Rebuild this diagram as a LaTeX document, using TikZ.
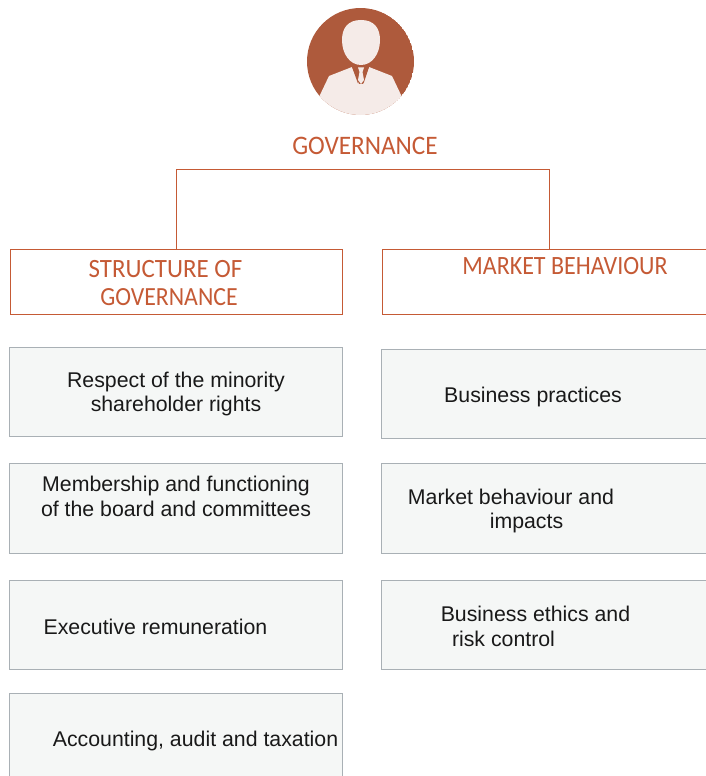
\documentclass[tikz,border=0pt]{standalone}
\usepackage{fontspec}
\setmainfont{Liberation Sans}
\newfontfamily\headfont{Carlito}
\definecolor{rust}{HTML}{C55A35}
\definecolor{disc}{HTML}{AE5A3C}
\definecolor{skin}{HTML}{F5EBE8}
\definecolor{boxfill}{HTML}{F5F7F6}
\definecolor{boxline}{HTML}{A9B0B5}
\tikzset{
  headbox/.style={draw=rust,line width=0.9pt,fill=white},
  itembox/.style={draw=boxline,line width=1pt,fill=boxfill},
  headtext/.style={inner sep=0pt,anchor=center,text=rust,yscale=1.06,font=\headfont\fontsize{25.2}{25.2}\selectfont},
  headnarrow/.style={inner sep=0pt,anchor=center,text=rust,yscale=1.1,font=\headfont\fontsize{24}{24}\selectfont},
  itemtext/.style={inner sep=0pt,anchor=center,text=black!90,font=\fontsize{21.3}{21.3}\selectfont},
  link/.style={draw=rust,line width=0.9pt}
}
\begin{document}
\begin{tikzpicture}[x=1pt,y=-1pt]
\useasboundingbox (0,0) rectangle (705,776);
% portrait
\begin{scope}
\clip (360.5,61.5) circle (53.5);
\fill[disc] (360.5,61.5) circle (53.5);
\fill[skin] (361,20) .. controls (348,20) and (342,28) .. (342,40)
  .. controls (342,54) and (350,65) .. (361,65)
  .. controls (372,65) and (380,54) .. (380,40)
  .. controls (380,28) and (374,20) .. (361,20) -- cycle;
\fill[skin] (352,67) -- (329,76) -- (319,97) -- (319,120) -- (403,120) -- (402,97)
  -- (392,76) -- (369,67) -- (363,84) -- (359,84) -- cycle;
\fill[disc] (352,67) -- (358,83.5) -- (360.5,72) -- (363.5,83.5) -- (369,67) -- (364,68) -- (357,68) -- cycle;
\fill[skin] (358,67.5) -- (364,67.5) -- (362.5,72) -- (364,80) -- (361,84) -- (358,80) -- (359.5,72) -- cycle;
\end{scope}
\node[headtext] (gov) at (365,146) {GOVERNANCE};
% header boxes
\node[headbox,minimum width=332pt,minimum height=65pt,inner sep=0pt] (sbox) at (176.5,282) {};
\node[headbox,minimum width=333pt,minimum height=65pt,inner sep=0pt] (mbox) at (548.5,282) {};
\coordinate (tl) at (176.5,169.5);
\coordinate (tr) at (549.5,169.5);
\draw[link] (tl |- sbox.north) -- (tl) -- (tr) -- (tr |- mbox.north);
\node[headtext,font=\headfont\fontsize{24.9}{24.9}\selectfont] (st1) at (165.5,269) {STRUCTURE OF};
\node[headnarrow,font=\headfont\fontsize{23.8}{23.8}\selectfont] (st2) at (169,297) {GOVERNANCE};
\node[headnarrow] (mt) at (565,266) {MARKET BEHAVIOUR};
% left column
\node[itembox,minimum width=333pt,minimum height=89pt,inner sep=0pt] (a) at (176,391.5) {};
\node[itembox,minimum width=333pt,minimum height=90pt,inner sep=0pt] (b) at (176,508) {};
\node[itembox,minimum width=333pt,minimum height=89pt,inner sep=0pt] (c) at (176,624.5) {};
\node[itembox,minimum width=333pt,minimum height=90pt,inner sep=0pt] (d) at (176,738) {};
\node[itemtext] (a1) at (176,382) {Respect of the minority};
\node[itemtext] (a2) at (176,406) {shareholder rights};
\node[itemtext] (b1) at (176,486) {Membership and functioning};
\node[itemtext] (b2) at (176,509) {of the board and committees};
\node[itemtext] (c1) at (155.5,627) {Executive remuneration};
\node[itemtext] (d1) at (195.5,741) {Accounting, audit and taxation};
% right column
\node[itembox,minimum width=333pt,minimum height=89pt,inner sep=0pt] (e) at (548,393.5) {};
\node[itembox,minimum width=333pt,minimum height=90pt,inner sep=0pt] (f) at (548,508) {};
\node[itembox,minimum width=333pt,minimum height=89pt,inner sep=0pt] (g) at (548,624.5) {};
\node[itemtext] (e1) at (533,397) {Business practices};
\node[itemtext] (f1) at (511,496.5) {Market behaviour and};
\node[itemtext] (f2) at (526.5,523) {impacts};
\node[itemtext] (g1) at (535.5,613.5) {Business ethics and};
\node[itemtext] (g2) at (503.5,639) {risk control};
\end{tikzpicture}
\end{document}
